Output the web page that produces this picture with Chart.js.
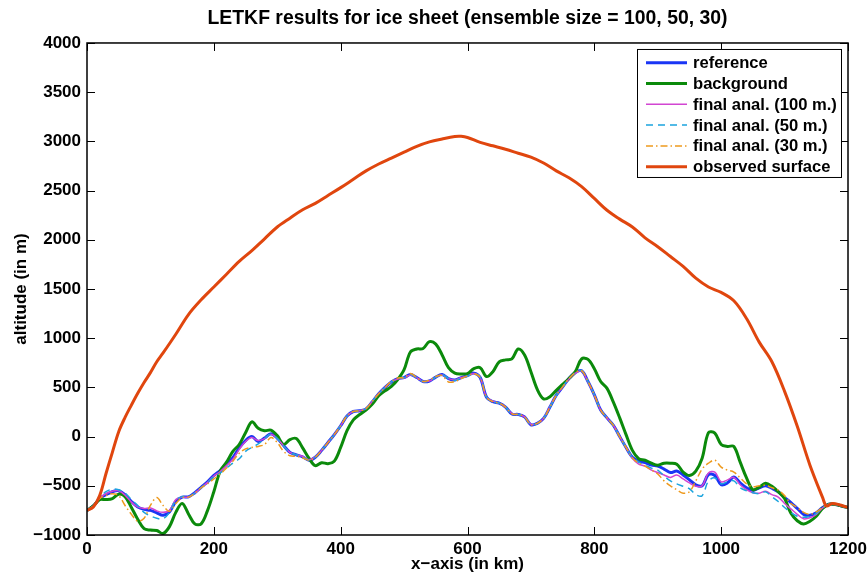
<!DOCTYPE html>
<html>
<head>
<meta charset="utf-8">
<title>LETKF results for ice sheet</title>
<script src="https://cdn.jsdelivr.net/npm/chart.js@4.4.1/dist/chart.umd.min.js"></script>
<style>
  html, body { margin: 0; padding: 0; background: #fff; }
  #chart { display: block; }
</style>
</head>
<body>
<canvas id="chart" width="868" height="575"></canvas>
<script>
// bed profiles are sampled every 10 km, 0..1200
const bedKm = Array.from({ length: 121 }, (_, i) => i * 10);

const reference = [
  -750, -705, -630, -590, -560, -550, -590, -660, -715, -740,
  -750, -775, -800, -765, -660, -615, -612, -570, -515, -460,
  -395, -345, -280, -215, -115, -40, 0, -50, -15, 30,
  -15, -90, -160, -185, -205, -240, -210, -140, -60, 20,
  110, 210, 255, 263, 280, 355, 435, 500, 555, 588,
  600, 630, 600, 560, 565, 605, 630, 590, 575, 600,
  620, 645, 600, 400, 355, 340, 300, 230, 225, 200,
  120, 135, 185, 300, 420, 505, 590, 650, 670, 560,
  425, 270, 190, 115, 0, -110, -210, -250, -265, -290,
  -300, -330, -365, -350, -390, -440, -490, -500, -385, -395,
  -490, -470, -410, -470, -520, -548, -520, -500, -525, -560,
  -620, -670, -730, -790, -800, -775, -720, -688, -690, -705,
  -722
];

const background = [
  -750, -705, -640, -640, -630, -585, -610, -720, -840, -935,
  -950, -955, -985, -915, -770, -680, -786, -887, -887, -752,
  -560, -350, -260, -150, -80, 40, 150, 85, 60, 65,
  10, -80, -30, -20, -115, -220, -295, -265, -275, -250,
  -110, 60, 170, 225, 270, 330, 415, 465, 510, 580,
  680, 860, 890, 895, 965, 940, 830, 700, 645, 637,
  640, 690, 700, 610, 660, 760, 780, 790, 890, 830,
  660, 480, 383, 405, 470, 530, 590, 660, 790, 785,
  690, 560, 490, 350, 190, 20, -140, -225, -240, -270,
  -290, -270, -270, -280, -360, -395, -350, -220, 40, 35,
  -80, -100, -100, -260, -420, -540, -515, -475, -505, -560,
  -630, -780, -855, -887, -860, -810, -730, -688, -690, -705,
  -722
];

const anal100 = [
  -750, -705, -625, -580, -555, -550, -595, -665, -715, -730,
  -725, -755, -770, -750, -640, -615, -615, -575, -520, -465,
  -400, -355, -295, -230, -130, -50, -10, -40, -20, 25,
  -20, -95, -160, -185, -200, -235, -205, -140, -60, 20,
  110, 210, 255, 263, 285, 360, 435, 500, 555, 585,
  595, 625, 600, 560, 565, 605, 625, 590, 575, 600,
  615, 640, 600, 400, 360, 340, 300, 235, 225, 200,
  125, 135, 185, 305, 420, 505, 585, 645, 665, 555,
  420, 270, 190, 115, 0, -110, -220, -280, -300, -340,
  -365, -390, -415, -390, -430, -470, -505, -500, -370, -360,
  -460, -440, -415, -490, -540, -570, -575, -555, -590, -615,
  -680, -735, -790, -835, -825, -790, -725, -688, -690, -705,
  -722
];

const anal50 = [
  -750, -705, -620, -560, -535, -540, -575, -640, -700, -770,
  -805, -830, -835, -770, -650, -610, -610, -575, -520, -465,
  -410, -370, -320, -270, -225, -150, -110, -75, -20, 25,
  -20, -95, -160, -185, -205, -240, -210, -140, -60, 20,
  110, 210, 255, 263, 285, 360, 435, 500, 555, 588,
  600, 630, 600, 560, 565, 605, 630, 590, 570, 595,
  615, 640, 605, 400, 355, 340, 300, 230, 225, 200,
  120, 135, 185, 300, 420, 505, 590, 650, 670, 560,
  425, 270, 190, 115, 0, -110, -210, -260, -290, -320,
  -340, -400, -450, -480, -505, -530, -590, -600, -450, -420,
  -480, -460, -450, -520, -550, -570, -580, -560, -610, -660,
  -720, -770, -810, -820, -810, -780, -725, -688, -690, -705,
  -722
];

const anal30 = [
  -750, -705, -630, -600, -580, -600, -700, -790, -860, -830,
  -700, -620, -700, -760, -680, -620, -615, -575, -520, -480,
  -430, -380, -320, -250, -170, -125, -110, -100, -80, -10,
  -60, -150, -195, -200, -215, -240, -210, -140, -60, 20,
  110, 210, 255, 263, 285, 360, 435, 500, 560, 595,
  600, 640, 600, 560, 575, 610, 620, 555, 560, 590,
  615, 640, 600, 400, 355, 340, 300, 230, 225, 200,
  120, 135, 185, 300, 420, 505, 590, 650, 670, 560,
  425, 270, 190, 115, 0, -110, -215, -270, -300, -340,
  -380, -450, -500, -540, -575, -560, -450, -330, -270, -240,
  -310, -340, -360, -420, -480, -510, -500, -495, -520, -545,
  -600, -680, -720, -770, -790, -765, -720, -688, -690, -705,
  -722
];

// observed ice surface
const surfaceKm = [
  0, 10, 20, 30, 40, 50, 60, 70, 80, 90, 100, 110, 120, 140, 160, 180,
  200, 220, 240, 260, 280, 300, 320, 340, 360, 380, 400, 420, 440, 460,
  480, 500, 520, 540, 560, 580, 590, 600, 620, 640, 660, 680, 700, 720,
  740, 760, 780, 800, 820, 840, 860, 880, 900, 920, 940, 960, 980, 1000,
  1020, 1040, 1060, 1080, 1100, 1120, 1140, 1160, 1166, 1175, 1188, 1200
];
const surfaceAlt = [
  -750, -715, -600, -375, -160, 50, 195, 320, 440, 550, 650, 760, 850, 1040, 1240, 1390,
  1520, 1650, 1780, 1890, 2010, 2130, 2220, 2305, 2370, 2450, 2530, 2615, 2700, 2770,
  2830, 2890, 2950, 2995, 3025, 3050, 3052, 3040, 2990, 2955, 2920, 2880, 2840, 2780,
  2700, 2630, 2540, 2420, 2300, 2210, 2130, 2020, 1930, 1830, 1730, 1610, 1520, 1465,
  1380, 1200, 960, 760, 460, 105, -290, -620, -705, -680, -695, -722
];

const yTicks = { min: -1000, max: 4000, step: 500 };
const xTicks = { min: 0, max: 1200, step: 200 };

const FONT = '"Liberation Sans", Arial, Helvetica, sans-serif';
const pts = (xs, ys) => xs.map((x, i) => ({ x, y: ys[i] }));
const minus = v => String(v).replace('-', '\u2212');

const series = [
  { label: 'reference', data: pts(bedKm, reference), color: '#1a35f5', width: 3, dash: [] },
  { label: 'background', data: pts(bedKm, background), color: '#0b8a0b', width: 3, dash: [] },
  { label: 'final anal. (100 m.)', data: pts(bedKm, anal100), color: '#d245d2', width: 1.5, dash: [] },
  { label: 'final anal. (50 m.)', data: pts(bedKm, anal50), color: '#1ba4de', width: 1.5, dash: [7, 5] },
  { label: 'final anal. (30 m.)', data: pts(bedKm, anal30), color: '#ee9a1e', width: 1.5, dash: [7, 3, 1.5, 3] },
  { label: 'observed surface', data: pts(surfaceKm, surfaceAlt), color: '#e0460e', width: 3, dash: [] },
];

// MATLAB-like box with inward ticks on all four sides
const boxTicks = {
  id: 'boxTicks',
  afterDatasetsDraw(chart) {
    const { ctx, chartArea: a, scales: { x, y } } = chart;
    const len = 8;
    ctx.save();
    ctx.strokeStyle = '#000';
    ctx.lineWidth = 1;
    ctx.beginPath();
    x.ticks.forEach(t => {
      const px = Math.round(x.getPixelForValue(t.value)) + 0.5;
      ctx.moveTo(px, a.bottom); ctx.lineTo(px, a.bottom - len);
      ctx.moveTo(px, a.top); ctx.lineTo(px, a.top + len);
    });
    y.ticks.forEach(t => {
      const py = Math.round(y.getPixelForValue(t.value)) + 0.5;
      ctx.moveTo(a.left, py); ctx.lineTo(a.left + len, py);
      ctx.moveTo(a.right, py); ctx.lineTo(a.right - len, py);
    });
    ctx.stroke();
    ctx.lineWidth = 1.5;
    ctx.strokeRect(a.left, a.top, a.right - a.left, a.bottom - a.top);
    ctx.restore();
  }
};

// legend box inside the upper right corner
const boxLegend = {
  id: 'boxLegend',
  afterDraw(chart) {
    const { ctx, chartArea: a } = chart;
    const left = a.right - 211, top = a.top + 6, w = 204, h = 128;
    ctx.save();
    ctx.fillStyle = '#fff';
    ctx.fillRect(left, top, w, h);
    ctx.strokeStyle = '#000';
    ctx.lineWidth = 1;
    ctx.strokeRect(left + 0.5, top + 0.5, w, h);
    ctx.font = 'bold 16.6px ' + FONT;
    ctx.textBaseline = 'middle';
    chart.data.datasets.forEach((ds, i) => {
      const cy = top + 13.7 + i * 20.8;
      ctx.strokeStyle = ds.borderColor;
      ctx.lineWidth = ds.borderWidth;
      ctx.setLineDash(ds.borderDash || []);
      ctx.beginPath();
      ctx.moveTo(left + 9, cy);
      ctx.lineTo(left + 50, cy);
      ctx.stroke();
      ctx.setLineDash([]);
      ctx.fillStyle = '#000';
      ctx.fillText(ds.label, left + 56, cy + 1);
    });
    ctx.restore();
  }
};

new Chart(document.getElementById('chart'), {
  type: 'line',
  data: {
    datasets: series.map((s, i) => ({
      label: s.label,
      data: s.data,
      borderColor: s.color,
      backgroundColor: s.color,
      borderWidth: s.width,
      borderDash: s.dash,
      pointRadius: 0,
      tension: 0.35,
      fill: false,
      order: series.length - i,
    })),
  },
  options: {
    responsive: false,
    animation: false,
    events: [],
    layout: { padding: { left: 0, right: 20, top: 0, bottom: 0 } },
    plugins: {
      legend: { display: false },
      tooltip: { enabled: false },
      title: {
        display: true,
        fullSize: false,
        text: 'LETKF results for ice sheet (ensemble size = 100, 50, 30)',
        color: '#000',
        font: { family: FONT, size: 19.4, weight: 'bold' },
        padding: { top: 7, bottom: 12.7 },
      },
    },
    scales: {
      x: {
        type: 'linear',
        min: xTicks.min,
        max: xTicks.max,
        grid: { display: false, drawTicks: false },
        border: { display: false },
        ticks: {
          stepSize: xTicks.step,
          color: '#000',
          padding: 4,
          maxRotation: 0,
          font: { family: FONT, size: 17, weight: 'bold' },
          callback: v => minus(v),
        },
        title: {
          display: true,
          text: 'x\u2212axis (in km)',
          color: '#000',
          font: { family: FONT, size: 17, weight: 'bold' },
          padding: { top: 0, bottom: 0 },
        },
        afterFit: s => { s.height = 40; s.paddingLeft = 0; s.paddingRight = 0; },
      },
      y: {
        type: 'linear',
        min: yTicks.min,
        max: yTicks.max,
        grid: { display: false, drawTicks: false },
        border: { display: false },
        ticks: {
          stepSize: yTicks.step,
          color: '#000',
          padding: 6,
          font: { family: FONT, size: 17, weight: 'bold' },
          callback: v => minus(v),
        },
        title: {
          display: true,
          text: 'altitude (in m)',
          color: '#000',
          font: { family: FONT, size: 17, weight: 'bold' },
          padding: { top: 11, bottom: 0 },
        },
        afterFit: s => { s.width = 87; },
      },
    },
  },
  plugins: [boxTicks, boxLegend],
});
</script>
</body>
</html>
